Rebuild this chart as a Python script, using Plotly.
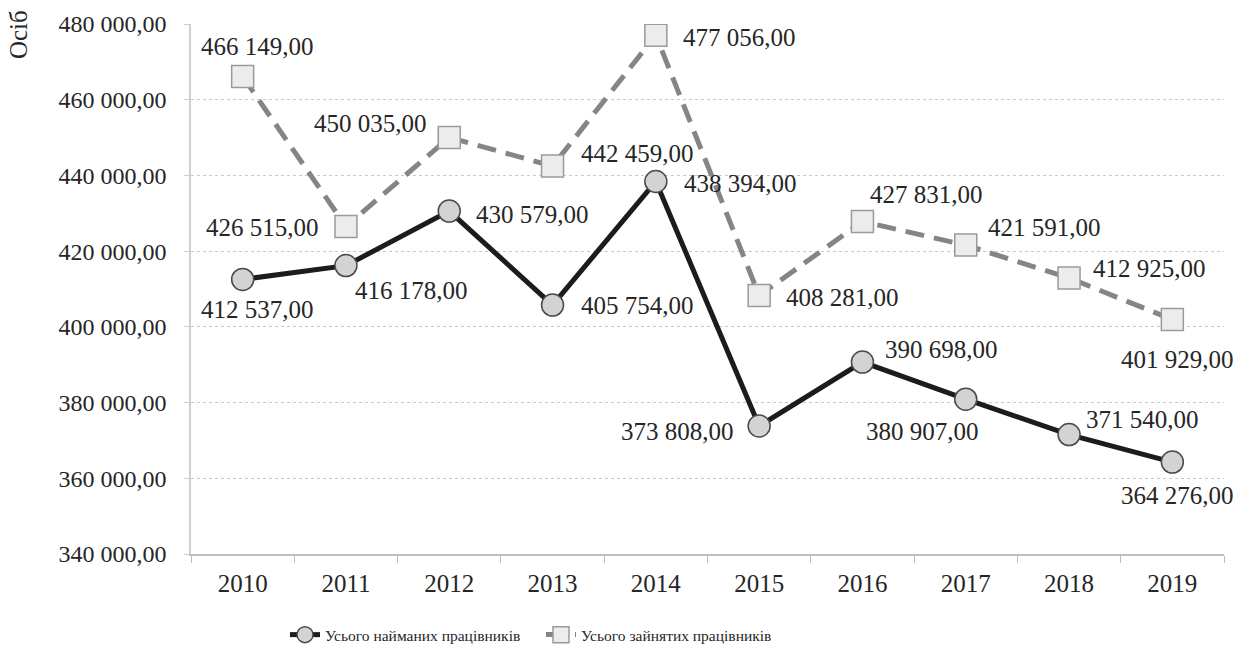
import plotly.graph_objects as go

# Data
years = ["2010", "2011", "2012", "2013", "2014", "2015", "2016", "2017", "2018", "2019"]
hired = [412537, 416178, 430579, 405754, 438394, 373808, 390698, 380907, 371540, 364276]
employed = [466149, 426515, 450035, 442459, 477056, 408281, 427831, 421591, 412925, 401929]
y_ticks = [340000, 360000, 380000, 400000, 420000, 440000, 460000, 480000]
hired_name = "Усього найманих працівників"
employed_name = "Усього зайнятих працівників"
y_title = "Осіб"

# Label placement around each marker: (xanchor, xshift, yshift) in pixels
hired_lbl = [("center", 15, -30), ("center", 66, -25), ("left", 25, -3), ("left", 26, 0),
             ("left", 26, -2), ("right", -23, -5), ("left", 21, 13), ("center", -43, -32),
             ("left", 15, 15), ("center", 5, -33)]
employed_lbl = [("center", 15, 30), ("right", -25, -1), ("right", -20, 14), ("left", 26, 13),
                ("left", 25, -2), ("left", 25, -2), ("left", 6, 27), ("left", 20, 18),
                ("left", 22, 9), ("center", 5, -40)]

FONT = "Liberation Serif, Times New Roman, serif"
TXT = "#262626"


def fmt(v):
    return f"{v:,.2f}".replace(",", " ").replace(".", ",")


fig = go.Figure()
fig.add_trace(go.Scatter(
    x=years, y=hired, name=hired_name, mode="lines+markers",
    line=dict(color="#1c1c1c", width=5),
    marker=dict(symbol="circle", size=22, color="#d3d3d3",
                line=dict(color="#4a4a4a", width=1.5)),
))
fig.add_trace(go.Scatter(
    x=years, y=employed, name=employed_name, mode="lines+markers",
    line=dict(color="#858585", width=5, dash="19px,10px"),
    marker=dict(symbol="square", size=22, color="#ececec",
                line=dict(color="#9a9a9a", width=1.5)),
))

# Value labels; category positions are given by index on the category axis
annotations = []
for vals, lbls in ((hired, hired_lbl), (employed, employed_lbl)):
    for i, (v, (anc, dx, dy)) in enumerate(zip(vals, lbls)):
        annotations.append(dict(
            x=i, y=v, xref="x", yref="y", text=fmt(v), showarrow=False,
            xanchor=anc, yanchor="middle", xshift=dx, yshift=dy,
            font=dict(family=FONT, size=25, color=TXT),
        ))

annotations.append(dict(
    xref="paper", yref="paper", x=-0.167, y=1.03, text=y_title,
    textangle=-90, showarrow=False, xanchor="center", yanchor="top",
    font=dict(family=FONT, size=25, color=TXT),
))

fig.update_layout(
    width=1250, height=650,
    margin=dict(l=191, r=26, t=24, b=96),
    paper_bgcolor="white", plot_bgcolor="white",
    font=dict(family=FONT, size=20, color=TXT),
    showlegend=True,
    legend=dict(orientation="h", xref="container", yref="container",
                x=0.228, xanchor="left", y=0.023, yanchor="middle",
                entrywidth=211,
                font=dict(family=FONT, size=15.5, color=TXT)),
    annotations=annotations,
)
fig.update_xaxes(
    type="category", categoryorder="array", categoryarray=years,
    range=[-0.5, len(years) - 0.5], automargin=False,
    showgrid=False, showline=True, linecolor="#bdbdbd", linewidth=1.5,
    ticks="outside", tickson="boundaries", ticklen=7, tickcolor="#bdbdbd",
    tickangle=0, ticklabelstandoff=6,
    tickfont=dict(family=FONT, size=25, color=TXT),
)
fig.update_yaxes(
    range=[340000, 480000], tickvals=y_ticks, ticktext=[fmt(t) for t in y_ticks],
    automargin=False,
    showgrid=True, gridcolor="#c8c8c8", griddash="dot", gridwidth=1,
    showline=True, linecolor="#cfcfcf", linewidth=1.5,
    ticks="outside", ticklen=5, tickcolor="#cfcfcf", ticklabelstandoff=13,
    tickfont=dict(family=FONT, size=24, color=TXT),
    zeroline=False,
)

fig.write_html("out.html")
